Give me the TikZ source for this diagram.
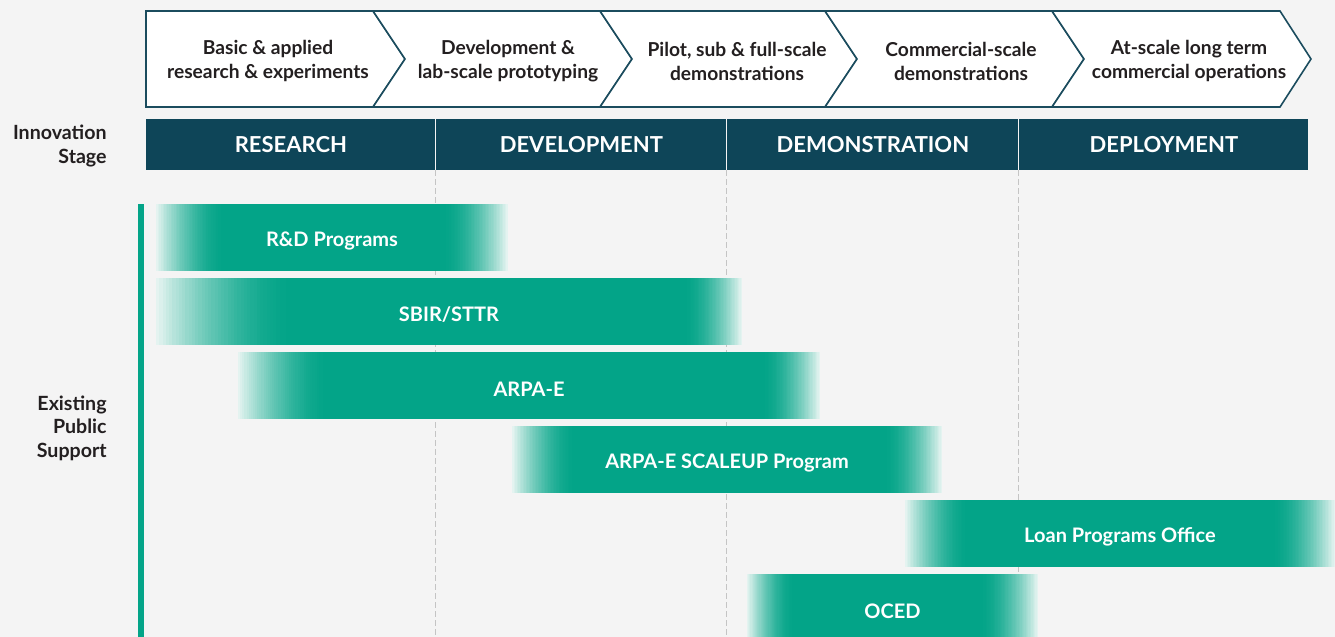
\documentclass[tikz,border=0pt]{standalone}
\usepackage{fontspec}
\setmainfont{Lato}
\definecolor{bgc}{HTML}{F4F4F4}
\definecolor{navy}{HTML}{0E4558}
\definecolor{chevline}{HTML}{1B4C5E}
\definecolor{tealc}{HTML}{03A488}
\definecolor{fadec}{HTML}{E6F4F1}
\definecolor{gridc}{HTML}{C4C4C4}
\definecolor{txtc}{HTML}{231F20}
% #1 name, #2 x-left, #3 x-right, #4 y-top, #5 text, #6 left fade, #7 right fade
\newcommand\gbar[7]{%
  \fill[tealc] (#2,#4) rectangle (#3,#4+67);
  \foreach \i in {0,...,39}{%
    \pgfmathtruncatemacro\pp{100*(1-(1-(\i+0.5)/40)^1.6)}%
    \fill[tealc!\pp!fadec] ({#2+\i*#6/40},#4) rectangle ({#2+(\i+1)*#6/40+0.4},#4+67);
    \fill[tealc!\pp!fadec] ({#3-\i*#7/40},#4) rectangle ({#3-(\i+1)*#7/40-0.4},#4+67);
  }%
  \node[bartext] (#1) at ({(#2+#3)/2},#4+37) {#5};
}
\begin{document}
\begin{tikzpicture}[x=0.5pt,y=-0.5pt,
  chev/.style={fill=white, draw=chevline, line width=0.8pt, line join=miter},
  chevtext/.style={font=\bfseries\fontsize{9.6}{12}\selectfont, text=txtc, align=center, inner sep=0},
  stagebox/.style={fill=navy, draw=none, minimum height=25.5pt, inner sep=0, text=white, font=\bfseries\fontsize{11}{13}\selectfont},
  sidelabel/.style={font=\bfseries\fontsize{9.8}{11.7}\selectfont, text=txtc, align=right, inner sep=0, anchor=east},
  bartext/.style={inner sep=0, text=white, font=\bfseries\fontsize{10}{12}\selectfont},
  gridline/.style={draw=gridc, dashed, dash pattern=on 3pt off 1.5pt, line width=0.5pt},
  greenbar/.style={fill=tealc, draw=none}
]
\useasboundingbox (0,0) rectangle (1335,637);
\fill[bgc] (0,0) rectangle (1335,637);

% chevrons
\draw[chev] (146,11) -- (373,11) -- (405,59) -- (373,107) -- (146,107) -- cycle;
\draw[chev] (373,11) -- (600,11) -- (632,59) -- (600,107) -- (373,107) -- (405,59) -- cycle;
\draw[chev] (600,11) -- (825,11) -- (857,59) -- (825,107) -- (600,107) -- (632,59) -- cycle;
\draw[chev] (825,11) -- (1052,11) -- (1084,59) -- (1052,107) -- (825,107) -- (857,59) -- cycle;
\draw[chev] (1052,11) -- (1280,11) -- (1311,59) -- (1280,107) -- (1052,107) -- (1084,59) -- cycle;
\node[chevtext] (c1) at (268,61) {Basic \& applied\\research \& experiments};
\node[chevtext] (c2) at (508,61) {Development \&\\lab-scale prototyping};
\node[chevtext] (c3) at (737,61) {Pilot, sub \& full-scale\\demonstrations};
\node[chevtext] (c4) at (961,61) {Commercial-scale\\demonstrations};
\node[chevtext] (c5) at (1189,61) {At-scale long term\\commercial operations};

% grid lines
\draw[gridline] (435,170) -- (435,637);
\draw[gridline] (726,170) -- (726,637);
\draw[gridline] (1018,170) -- (1018,637);

% stage bar
\node[stagebox, minimum width={289*0.5pt}, anchor=north west] (s1) at (146,119) {RESEARCH};
\node[stagebox, minimum width={290*0.5pt}, anchor=north west] (s2) at (436,119) {DEVELOPMENT};
\node[stagebox, minimum width={291*0.5pt}, anchor=north west] (s3) at (727,119) {DEMONSTRATION};
\node[stagebox, minimum width={289*0.5pt}, anchor=north west] (s4) at (1019,119) {DEPLOYMENT};

% side labels
\node[sidelabel] (l1) at (107,146) {Innovation\\Stage};
\node[sidelabel] (l2) at (107,428) {Existing\\Public\\Support};

% green vertical bar
\fill[greenbar] (138,204) rectangle (144,637);

% bars
\gbar{b1}{156}{508}{204}{R\&D Programs}{65}{62}
\gbar{b2}{156}{742}{278}{SBIR/STTR}{130}{55}
\gbar{b3}{238}{820}{352}{ARPA-E}{85}{55}
\gbar{b4}{512}{942}{426}{ARPA-E SCALEUP Program}{60}{55}
\gbar{b5}{905}{1335}{500}{Loan Programs Office}{60}{60}
\gbar{b6}{747}{1038}{574}{OCED}{45}{55}
\end{tikzpicture}
\end{document}
